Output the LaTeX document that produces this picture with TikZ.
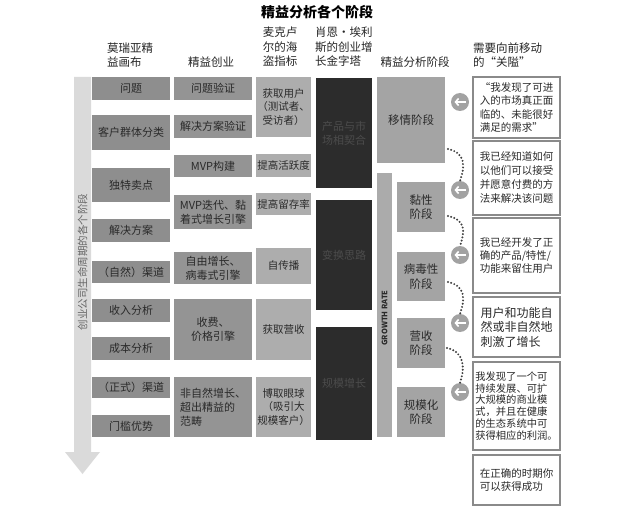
\documentclass[tikz,border=0pt]{standalone}
\usepackage{fontspec}
\setmainfont{Noto Sans CJK SC}
\usetikzlibrary{arrows.meta}
\definecolor{canvasgray}{HTML}{8E8E8E}
\definecolor{leangray}{HTML}{949494}
\definecolor{pirategray}{HTML}{ADADAD}
\definecolor{pyramiddark}{HTML}{2C2C2C}
\definecolor{pyramidtext}{HTML}{4C4C4C}
\definecolor{stagegray}{HTML}{A4A4A4}
\definecolor{bargray}{HTML}{ABABAB}
\definecolor{bandgray}{HTML}{DADADA}
\definecolor{gategray}{HTML}{A2A2A2}
\definecolor{hurdleline}{HTML}{8A8A8A}
\definecolor{boxtext}{HTML}{2A2A2A}

\begin{document}
\begin{tikzpicture}[x=1pt, y=-1pt, font=\fontsize{11}{14}\selectfont,
  box/.style={inner sep=1pt, align=center, text=boxtext},
  canvas/.style={box, fill=canvasgray, minimum width=78pt},
  lean/.style={box, fill=leangray, minimum width=78pt},
  pirate/.style={box, fill=pirategray, minimum width=55pt, font=\fontsize{10.5}{13.5}\selectfont},
  pyramid/.style={box, fill=pyramiddark, text=pyramidtext, minimum width=56pt},
  stagebox/.style={box, fill=stagegray, font=\fontsize{11.5}{14.5}\selectfont},
  hurdle/.style={draw=hurdleline, line width=1.3pt, fill=white, minimum width=87pt,
    align=left, inner sep=2pt, text=boxtext, font=\fontsize{10.5}{13.2}\selectfont},
  gate/.style={circle, fill=gategray, minimum size=18pt, inner sep=0pt},
  gatearrow/.style={draw=white, line width=1.6pt, -{Straight Barb[length=3pt, width=7pt]}},
  head/.style={font=\fontsize{11.5}{14.5}\selectfont, text=black!85, inner sep=0pt},
  dots/.style={draw=black!75, line width=2.2pt, line cap=round, dash pattern=on 0pt off 3.3pt}]
  \useasboundingbox[fill=white] (0,0) rectangle (622,516);

  % title and column heads
  \node[font=\fontsize{14}{16}\selectfont\bfseries] (T) at (317,12) {精益分析各个阶段};
  \node[head, align=left, anchor=west] (HM) at (107,55) {莫瑞亚精\\益画布};
  \node[head] (HL) at (211,62) {精益创业};
  \node[head, align=center] (HP) at (280,47) {麦克卢\\尔的海\\盗指标};
  \node[head, align=left, anchor=west] (HG) at (315,47) {肖恩·埃利\\斯的创业增\\长金字塔};
  \node[head] (HS) at (415,62) {精益分析阶段};
  \node[head, align=left, anchor=west] (HH) at (473,55) {需要向前移动\\的“关隘”};

  % life cycle arrow
  \fill[bandgray] (74,77) -- (91,77) -- (91,452) -- (100,452) -- (82.5,474)
    -- (65,452) -- (74,452) -- cycle;
  \node[rotate=90, text=black!60, font=\fontsize{10.5}{12}\selectfont] (LC) at (82.5,262)
    {创业公司生命周期的各个阶段};

  % Maurya canvas
  \node[canvas, minimum height=23pt] (M1) at (131,88.5) {问题};
  \node[canvas, minimum height=35pt] (M2) at (131,132.5) {客户群体分类};
  \node[canvas, minimum height=34pt] (M3) at (131,185) {独特卖点};
  \node[canvas, minimum height=23pt] (M4) at (131,230.5) {解决方案};
  \node[canvas, minimum height=22pt] (M5) at (131,272) {（自然）渠道};
  \node[canvas, minimum height=23pt] (M6) at (131,310.5) {收入分析};
  \node[canvas, minimum height=23pt] (M7) at (131,348.5) {成本分析};
  \node[canvas, minimum height=21pt] (M8) at (131,387.5) {（正式）渠道};
  \node[canvas, minimum height=22pt] (M9) at (131,426) {门槛优势};

  % lean startup
  \node[lean, minimum height=23pt] (L1) at (213,88.5) {问题验证};
  \node[lean, minimum height=23pt] (L2) at (213,126.5) {解决方案验证};
  \node[lean, minimum height=22pt] (L3) at (213,166) {MVP构建};
  \node[lean, minimum height=34pt] (L4) at (213,212) {MVP迭代、黏\\着式增长引擎};
  \node[lean, minimum height=32pt] (L5) at (213,268) {自由增长、\\病毒式引擎};
  \node[lean, minimum height=61pt] (L6) at (213,329.5) {收费、\\价格引擎};
  \node[lean, minimum height=60pt, align=left] (L7) at (213,407) {非自然增长、\\超出精益的\\范畴};

  % pirate metrics
  \node[pirate, minimum height=60pt] (P1) at (283.5,107) {获取用户\\（测试者、\\受访者）};
  \node[pirate, minimum height=23pt] (P2) at (283.5,165.5) {提高活跃度};
  \node[pirate, minimum height=22pt] (P3) at (283.5,204) {提高留存率};
  \node[pirate, minimum height=36pt] (P4) at (283.5,266) {自传播};
  \node[pirate, minimum height=61pt] (P5) at (283.5,329.5) {获取营收};
  \node[pirate, minimum height=60pt] (P6) at (283.5,407) {博取眼球\\（吸引大\\规模客户）};

  % growth pyramid
  \node[pyramid, minimum height=110pt] (G1) at (344,133) {产品与市\\场相契合};
  \node[pyramid, minimum height=110pt] (G2) at (344,255) {变换思路};
  \node[pyramid, minimum height=113pt] (G3) at (344,383.5) {规模增长};

  % lean analytics stages
  \node[stagebox, minimum width=68pt, minimum height=86pt] (S1) at (411,120) {移情阶段};
  \node[fill=bargray, minimum width=15pt, minimum height=264pt, inner sep=0pt] (R) at (384.5,305) {};
  \node[rotate=90, text=boxtext, font=\fontsize{7.5}{8}\selectfont\bfseries, inner sep=0pt] (RT)
    at (384.5,318) {GROWTH RATE};
  \node[stagebox, minimum width=48pt, minimum height=50pt] (S2) at (421,207) {黏性\\阶段};
  \node[stagebox, minimum width=48pt, minimum height=49pt] (S3) at (421,276.5) {病毒性\\阶段};
  \node[stagebox, minimum width=48pt, minimum height=50pt] (S4) at (421,343) {营收\\阶段};
  \node[stagebox, minimum width=48pt, minimum height=50pt] (S5) at (421,412) {规模化\\阶段};

  % gates
  \node[gate] (A1) at (460,102) {};
  \node[gate] (A2) at (460,190) {};
  \node[gate] (A3) at (460,255) {};
  \node[gate] (A4) at (460,323) {};
  \node[gate] (A5) at (460,392) {};
  \draw[gatearrow] ([xshift=5.5pt]A1.center) -- ([xshift=-5.5pt]A1.center);
  \draw[gatearrow] ([xshift=5.5pt]A2.center) -- ([xshift=-5.5pt]A2.center);
  \draw[gatearrow] ([xshift=5.5pt]A3.center) -- ([xshift=-5.5pt]A3.center);
  \draw[gatearrow] ([xshift=5.5pt]A4.center) -- ([xshift=-5.5pt]A4.center);
  \draw[gatearrow] ([xshift=5.5pt]A5.center) -- ([xshift=-5.5pt]A5.center);

  % dotted links between stages
  \coordinate (D1) at (448,149);
  \coordinate (D2) at (448,216);
  \coordinate (D3) at (448,282);
  \coordinate (D4) at (447,348);
  \draw[dots] (D1) .. controls +(18,4) and +(5,-14) .. (A2.north);
  \draw[dots] (D2) .. controls +(18,4) and +(5,-14) .. (A3.north);
  \draw[dots] (D3) .. controls +(18,4) and +(5,-14) .. (A4.north);
  \draw[dots] (D4) .. controls +(18,4) and +(5,-14) .. (A5.north);

  % hurdles
  \node[hurdle, minimum height=61pt] (H1) at (516.5,107.5)
    {“我发现了可进\\入的市场真正面\\临的、未能很好\\满足的需求”};
  \node[hurdle, minimum height=74pt, font=\fontsize{10.5}{14}\selectfont] (H2) at (516.5,178)
    {我已经知道如何\\以他们可以接受\\并愿意付费的方\\法来解决该问题};
  \node[hurdle, minimum height=75pt] (H3) at (516.5,255.5)
    {我已经开发了正\\确的产品/特性/\\功能来留住用户};
  \node[hurdle, minimum height=60pt, font=\fontsize{12}{14.5}\selectfont] (H4) at (516.5,327)
    {用户和功能自\\然或非自然地\\刺激了增长};
  \node[hurdle, minimum height=88pt, font=\fontsize{10.3}{11.8}\selectfont] (H5) at (516.5,406)
    {我发现了一个可\\持续发展、可扩\\大规模的商业模\\式，并且在健康\\的生态系统中可\\获得相应的利润。};
  \node[hurdle, minimum height=50pt] (H6) at (516.5,480)
    {在正确的时期你\\可以获得成功};
\end{tikzpicture}
\end{document}
